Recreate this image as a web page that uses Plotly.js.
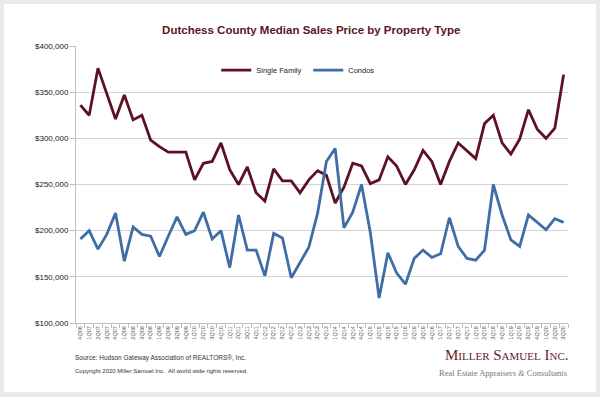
<!DOCTYPE html>
<html>
<head>
<meta charset="utf-8">
<script src="https://cdn.plot.ly/plotly-3.0.1.min.js"></script>
<style>
  html, body { margin: 0; padding: 0; background: #ebebeb; width: 600px; height: 397px; overflow: hidden; }
  #chart { position: absolute; left: 4px; top: 4px; width: 592px; height: 388px; background: #fff; }
</style>
</head>
<body>
<div id="chart"></div>
<script>
const quarters = ["4Q06","1Q07","2Q07","3Q07","4Q07","1Q08","2Q08","3Q08","4Q08",
  "1Q09","2Q09","3Q09","4Q09","1Q10","2Q10","3Q10","4Q10","1Q11","2Q11","3Q11","4Q11",
  "1Q12","2Q12","3Q12","4Q12","1Q13","2Q13","3Q13","4Q13","1Q14","2Q14","3Q14","4Q14",
  "1Q15","2Q15","3Q15","4Q15","1Q16","2Q16","3Q16","4Q16","1Q17","2Q17","3Q17","4Q17",
  "1Q18","2Q18","3Q18","4Q18","1Q19","2Q19","3Q19","4Q19","1Q20","2Q20","3Q20"];

const singleFamily = [336000,325000,376000,349000,321000,347000,320000,325000,298000,291000,
  285000,285000,285000,255000,273000,275000,295000,266000,250000,269000,
  241000,232000,267000,254000,254000,241000,255000,265000,260000,230000,
  247000,273000,270000,251000,255000,280000,270000,250000,266000,287000,
  275000,250000,275000,295000,287000,278000,316000,325000,295000,283000,
  299000,331000,310000,300000,311000,369000];

const condos = [191000,200000,180000,196000,219000,167000,204000,196000,194000,172000,
  194000,215000,196000,200000,220000,191000,200000,160000,217000,179000,
  179000,151000,197000,192000,149000,166000,182000,219000,275000,289000,
  203000,220000,250000,198000,127000,176000,154000,142000,170000,179000,
  171000,175000,214000,183000,170000,168000,179000,250000,217000,190000,
  183000,217000,209000,201000,213000,209000];

const yTicks = [100000,150000,200000,250000,300000,350000,400000];
const yTickLabels = ["$100,000","$150,000","$200,000","$250,000","$300,000","$350,000","$400,000"];

const traces = [
  { x: quarters, y: singleFamily, name: "Single Family", type: "scatter", mode: "lines",
    line: { color: "#5e1122", width: 2.8 } },
  { x: quarters, y: condos, name: "Condos", type: "scatter", mode: "lines",
    line: { color: "#3f6ea6", width: 2.8 } }
];

const layout = {
  width: 592, height: 388,
  paper_bgcolor: "#ffffff", plot_bgcolor: "#ffffff",
  margin: { l: 72, r: 28, t: 42, b: 69 },
  font: { family: "Liberation Sans, Arial, sans-serif", color: "#222" },
  title: {
    text: "Dutchess County Median Sales Price by Property Type",
    font: { family: "Liberation Sans, Arial, sans-serif", size: 11.5, color: "#5a1526", weight: "bold" },
    x: 0.519, xref: "container", xanchor: "center",
    y: 0.933, yref: "container", yanchor: "middle"
  },
  showlegend: true,
  legend: {
    orientation: "h", x: 0.285, xanchor: "left", y: 0.913, yanchor: "middle",
    xref: "paper", yref: "paper",
    font: { size: 7.5, color: "#222" },
    bgcolor: "rgba(0,0,0,0)", itemwidth: 30,
    entrywidth: 47, entrywidthmode: "pixels",
    tracegroupgap: 0
  },
  xaxis: {
    type: "category", range: [-0.5, 55.5],
    showgrid: false, showline: true, linecolor: "#bfbfbf", linewidth: 1,
    ticks: "outside", tickson: "boundaries", ticklen: 4, tickcolor: "#bfbfbf",
    tickangle: -90, tickfont: { size: 5.5, color: "#555" },
    fixedrange: true, zeroline: false
  },
  yaxis: {
    range: [100000, 400000], tickmode: "array", tickvals: yTicks, ticktext: yTickLabels,
    showgrid: true, gridcolor: "#d3d3d3", gridwidth: 1,
    showline: true, linecolor: "#bfbfbf", linewidth: 1,
    ticks: "outside", ticklen: 5, tickcolor: "#bfbfbf",
    tickfont: { size: 8, color: "#222" },
    zeroline: false, fixedrange: true
  },
  annotations: [
    { text: "Source: Hudson Gateway Association of REALTORS®, Inc.", xref: "paper", yref: "paper",
      x: -0.006, y: -0.126, xanchor: "left", yanchor: "middle", showarrow: false,
      font: { size: 6.5, color: "#333" } },
    { text: "Copyright 2020 Miller Samuel Inc.  All world wide rights reserved.", xref: "paper", yref: "paper",
      x: -0.006, y: -0.173, xanchor: "left", yanchor: "middle", showarrow: false,
      font: { size: 6, color: "#333" } },
    { text: "Miller Samuel Inc.", xref: "paper", yref: "paper",
      x: 1.004, y: -0.1155, xanchor: "right", yanchor: "middle", showarrow: false,
      font: { family: "Liberation Serif, Times New Roman, serif", size: 15, color: "#6a1a2b", variant: "small-caps" } },
    { text: "Real Estate Appraisers <i>&</i> Consultants", xref: "paper", yref: "paper",
      x: 1.002, y: -0.1805, xanchor: "right", yanchor: "middle", showarrow: false,
      font: { family: "Liberation Serif, Times New Roman, serif", size: 8.5, color: "#777" } }
  ]
};

Plotly.newPlot("chart", traces, layout, { displayModeBar: false, staticPlot: true });
</script>
</body>
</html>
